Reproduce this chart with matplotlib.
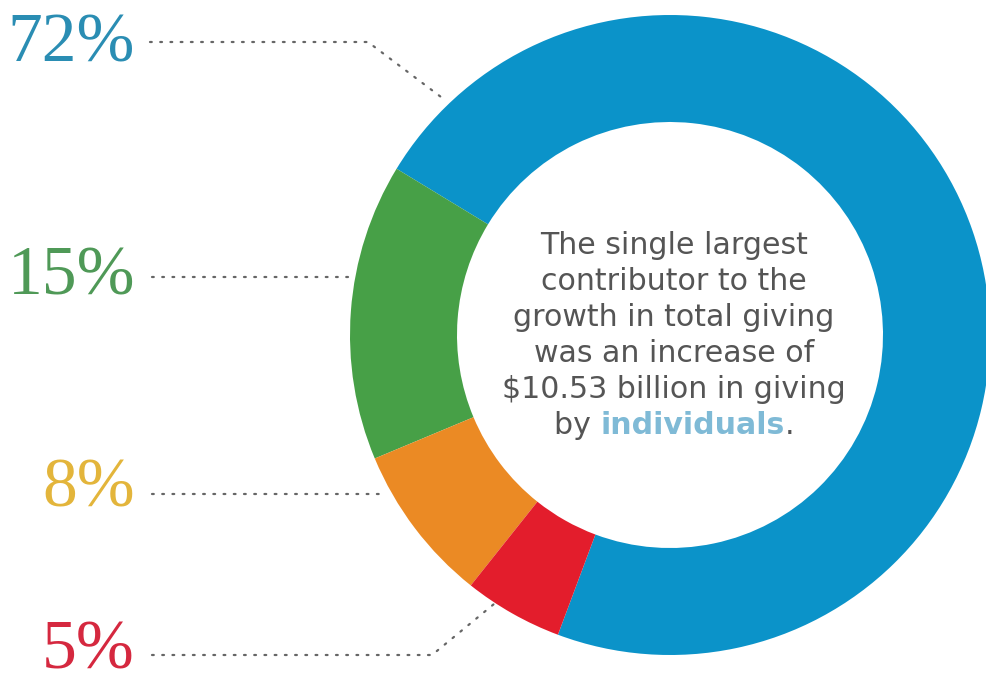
import matplotlib
matplotlib.use("Agg")
import matplotlib.pyplot as plt

# ----- Data -----
shares = [72, 15, 8, 5]
labels = ["72%", "15%", "8%", "5%"]
wedge_colors = ["#0b93c9", "#47a047", "#eb8a24", "#e31d2c"]
label_colors = ["#2a8db3", "#4f9957", "#e3b53b", "#d5283f"]

center_lines = [
    "The single largest",
    "contributor to the",
    "growth in total giving",
    "was an increase of",
    "$10.53 billion in giving",
]
last_line = ["by ", "individuals", "."]

W, H = 986, 683
fig = plt.figure(figsize=(W / 100, H / 100), dpi=100)
ax = fig.add_axes([0, 0, 1, 1])

# donut (pixel coordinates, y measured upward)
cx, cy, r_out, r_in = 670, H - 335, 320, 213
ax.pie(shares, colors=wedge_colors, startangle=249.5, counterclock=True,
       center=(cx, cy), radius=r_out,
       wedgeprops=dict(width=r_out - r_in, linewidth=0))
ax.set_xlim(0, W)
ax.set_ylim(0, H)
ax.set_aspect("equal")
ax.axis("off")

# ----- Labels with dotted leaders -----
label_pos = [(135, 45), (135, 278), (135, 490), (135, 652)]
leaders = [
    [(150, 42), (368, 42), (445, 100)],
    [(152, 277), (355, 277)],
    [(152, 494), (384, 494)],
    [(152, 655), (432, 655), (494, 604)],
]
for lab, col, (lx, ly), pts in zip(labels, label_colors, label_pos, leaders):
    ax.text(lx, H - ly, lab, ha="right", va="center", color=col,
            fontsize=50, family="Liberation Serif")
    xs = [p[0] for p in pts]
    ys = [H - p[1] for p in pts]
    ax.plot(xs, ys, color="#666666", lw=1.6, ls=(0, (0.8, 3.8)),
            solid_capstyle="round", dash_capstyle="round")

# ----- Center text -----
tx = 674
fs = 21.6
gray = "#555555"
for i, line in enumerate(center_lines):
    ax.text(tx, H - (245 + 36 * i), line, ha="center", va="center",
            fontsize=fs, color=gray, family="DejaVu Sans")

# last line with coloured bold word
y_last = H - 425
renderer = fig.canvas.get_renderer()
parts = []
styles = [dict(color=gray), dict(color="#7fbad6", weight="bold"), dict(color=gray)]
for txt, st in zip(last_line, styles):
    t = ax.text(0, y_last, txt, ha="left", va="center", fontsize=fs,
                family="DejaVu Sans", **st)
    parts.append(t)
widths = [t.get_window_extent(renderer).width for t in parts]
x = tx - sum(widths) / 2
for t, w in zip(parts, widths):
    t.set_x(x)
    x += w

fig.savefig("out.png", dpi=100, facecolor="white")
